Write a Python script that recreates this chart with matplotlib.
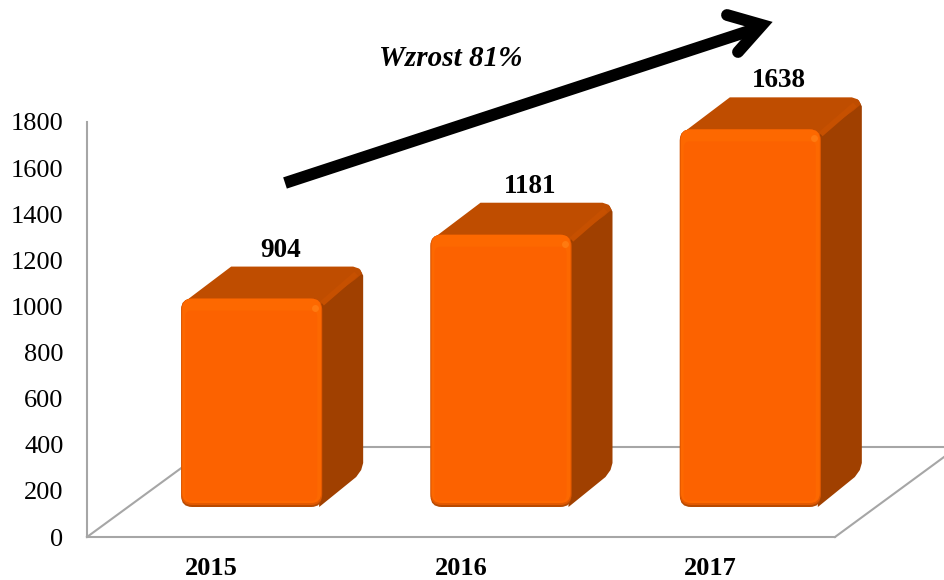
import matplotlib.pyplot as plt
from matplotlib.lines import Line2D
from matplotlib.patches import FancyBboxPatch, Polygon
from matplotlib.transforms import IdentityTransform

years = ['2015', '2016', '2017']
values = [904, 1181, 1638]
y_ticks = list(range(0, 2000, 200))

W, H = 944, 580
plt.rcParams['font.family'] = ['Liberation Serif', 'DejaVu Serif']

fig = plt.figure(figsize=(W / 100, H / 100), dpi=100)
ax = fig.add_axes([87 / W, (H - 537) / H, 748 / W, 415 / H])
ax.set_xlim(-0.5, 2.5)
ax.set_ylim(0, 1800)
ax.set_facecolor('none')

for s in ['top', 'right']:
    ax.spines[s].set_visible(False)
for s in ['left', 'bottom']:
    ax.spines[s].set_color('#a6a6a6')
    ax.spines[s].set_linewidth(1.5)
ax.set_xticks(range(len(years)), years, fontsize=19, fontweight='bold')
ax.set_yticks(y_ticks)
ax.tick_params(axis='x', length=0, pad=14.5)
ax.tick_params(axis='y', length=0, pad=17, labelsize=19)

px = IdentityTransform()


def py(y):
    # y from the top of the image -> display coords
    return H - y


def poly(points, **kw):
    p = Polygon([(x, py(y)) for x, y in points], closed=True, transform=px,
                clip_on=False, **kw)
    fig.add_artist(p)
    p.set_zorder(kw.get('zorder', 2))
    return p


def rbox(x0, y0, x1, y1, r, color, z):
    b = FancyBboxPatch((x0 + r, py(y1) + r), x1 - x0 - 2 * r, y1 - y0 - 2 * r,
                       boxstyle='round,pad=%f,rounding_size=%f' % (r, r),
                       fc=color, ec='none', transform=px, zorder=z)
    fig.add_artist(b)


# floor of the 3d chart
floor_color = '#a6a6a6'
for xs, ys in [([87, 210], [537, 447]), ([210, 944], [447, 447]), ([835, 944], [537, 457])]:
    fig.add_artist(Line2D(xs, [py(v) for v in ys], color=floor_color, lw=1.5,
                          transform=px, zorder=1))

front_w = 141
off_x, off_y = 40, 30
dep_x, dep_y = 41, 32

for i, v in enumerate(values):
    cx, top = ax.transData.transform((i, v))
    _, base = ax.transData.transform((i, 0))
    top = H - top - off_y
    base = H - base - off_y
    x0 = cx + off_x - front_w / 2
    x1 = x0 + front_w

    # side
    poly([(x1 - 8, top + 6), (x1 + dep_x - 10, top - dep_y + 1), (x1 + dep_x - 3, top - dep_y + 3),
          (x1 + dep_x, top - dep_y + 9), (x1 + dep_x, base - dep_y - 12), (x1 + dep_x - 2, base - dep_y - 5),
          (x1 + dep_x - 7, base - dep_y + 2), (x1 - 3, base)], fc='#a04000', ec='none', zorder=3)
    # top
    poly([(x0 + 5, top + 2), (x0 + 50, top - dep_y), (x1 + dep_x - 10, top - dep_y),
          (x1 + dep_x - 4, top - dep_y + 2), (x1 + dep_x - 1, top - dep_y + 7),
          (x1 + dep_x - 8, top - dep_y + 13), (x1 - 2, top + 6)],
         fc='#bf4d00', ec='none', zorder=3)
    # lighter ridge between top and side
    fig.add_artist(Line2D([x1 + 2, x1 + dep_x - 9], [py(top + 3), py(top - dep_y + 9)], color='#c65000',
                          lw=4, transform=px, zorder=3.5))
    # front, layered to get the bevel
    rbox(x0, top, x1, base, 11, '#b84a00', 4)
    rbox(x0, top, x1, base - 2, 11, '#e25800', 4.1)
    rbox(x0 + 1, top, x1 - 1, base - 4, 10, '#fd6800', 4.2)
    rbox(x0 + 4, top + 12, x1 - 5, base - 6, 6, '#fc6200', 4.3)
    fig.add_artist(Line2D([x1 - 7], [py(top + 9)], marker='o', ms=5, mfc='#ff7a10', mec='none',
                          transform=px, zorder=4.4))

    ax.annotate(str(v), (i, v), xytext=(69 * 0.72, 78.5 * 0.72), textcoords='offset points',
                ha='center', va='center', fontsize=19.5, fontweight='bold', zorder=6,
                annotation_clip=False)

# growth arrow
fig.add_artist(Line2D([285, 755], [py(183), py(29)], color='black', lw=8.5, solid_capstyle='butt',
                      transform=px, zorder=6))
fig.add_artist(Line2D([727, 762, 738], [py(15), py(25), py(52)], color='black', lw=8.5,
                      solid_capstyle='round', solid_joinstyle='miter', transform=px, zorder=6))
fig.text(451 / W, (H - 58) / H, 'Wzrost 81%', ha='center', va='center', fontsize=21,
         fontweight='bold', style='italic')

fig.savefig('out.png', dpi=100)
